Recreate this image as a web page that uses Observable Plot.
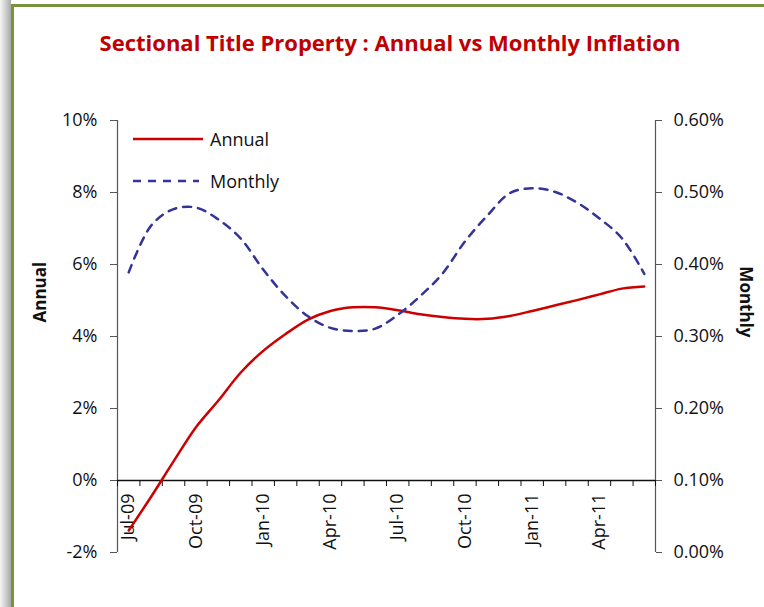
<!DOCTYPE html>
<html>
<head>
<meta charset="utf-8">
<script src="https://cdn.jsdelivr.net/npm/d3@7"></script>
<script src="https://cdn.jsdelivr.net/npm/@observablehq/plot@0.6"></script>
<style>
  body { margin: 0; background: #fff; }
  #wrap { position: relative; width: 764px; height: 607px; overflow: hidden; background: #fff; font-family: "Open Sans", sans-serif; }
  #shadow { position: absolute; left: 0; top: 0; width: 11px; height: 607px; background: linear-gradient(to right, #f6f6f6, #c8c8c8 60%, #a8a8a8); }
  #border { position: absolute; left: 11px; top: 4px; width: 800px; height: 700px; border-top: 3px solid #77933C; border-left: 3px solid #77933C; }
  #title { position: absolute; top: 27px; left: 0; width: 780px; text-align: center; color: #C00000; font-weight: bold; font-size: 22px; white-space: nowrap; }
  #chart { position: absolute; left: 0; top: 70px; }
  #legend { position: absolute; left: 133px; top: 124px; font-size: 18px; color: #111; }
  .lg { display: flex; align-items: center; height: 30px; margin-bottom: 12px; }
  .lg svg { margin-right: 7px; }
</style>
</head>
<body>
<div id="wrap">
  <div id="shadow"></div>
  <div id="border"></div>
  <div id="title">Sectional Title Property : Annual vs Monthly Inflation</div>
  <div id="chart"></div>
  <div id="legend">
    <div class="lg"><svg width="70" height="6"><line x1="0" x2="70" y1="3" y2="3" stroke="#CC0000" stroke-width="2.5"/></svg><span>Annual</span></div>
    <div class="lg"><svg width="70" height="6"><line x1="0" x2="66" y1="3" y2="3" stroke="#333399" stroke-width="2.5" stroke-dasharray="8,7"/></svg><span>Monthly</span></div>
  </div>
</div>
<script>
// Categories (months)
const months = ["Jul-09","Aug-09","Sep-09","Oct-09","Nov-09","Dec-09","Jan-10","Feb-10","Mar-10","Apr-10","May-10","Jun-10",
                "Jul-10","Aug-10","Sep-10","Oct-10","Nov-10","Dec-10","Jan-11","Feb-11","Mar-11","Apr-11","May-11","Jun-11"];
// Annual inflation (%), left axis
const annual = [-1.39, -0.45, 0.53, 1.48, 2.22, 3.0, 3.6, 4.07, 4.47, 4.71, 4.81, 4.81,
                4.73, 4.62, 4.54, 4.49, 4.49, 4.57, 4.71, 4.86, 5.01, 5.17, 5.33, 5.39];
// Monthly inflation (%), right axis
const monthly = [0.389, 0.454, 0.477, 0.479, 0.4625, 0.436, 0.393, 0.356, 0.328, 0.312, 0.3076, 0.311,
                 0.330, 0.356, 0.3875, 0.432, 0.468, 0.499, 0.506, 0.501, 0.486, 0.464, 0.4365, 0.387];
// Axis ticks
const leftTicks = [-2, 0, 2, 4, 6, 8, 10];
const rightTickLabels = ["0.00%","0.10%","0.20%","0.30%","0.40%","0.50%","0.60%"];
const labelMonths = [0, 3, 6, 9, 12, 15, 18, 21];

// Map monthly onto annual scale: 0.00% -> -2%, 0.60% -> 10%
const toLeft = m => m * 20 - 2;
const xDomain = [-0.5, months.length - 0.5];
const boundaries = d3.range(months.length + 1).map(i => i - 0.5);

const W = 764, H = 537, mT = 50, mB = 55, mL = 117, mR = 109;
const innerH = H - mT - mB;
const yDomain = [-2, 10];
const zeroShift = -innerH * (0 - yDomain[0]) / (yDomain[1] - yDomain[0]);

const plot = Plot.plot({
  width: W, height: H,
  marginTop: mT, marginBottom: mB, marginLeft: mL, marginRight: mR,
  style: { fontFamily: "Open Sans, sans-serif", fontSize: "18px", color: "#111", background: "transparent" },
  x: { type: "linear", domain: xDomain, axis: null },
  y: { domain: yDomain, axis: null },
  marks: [
    Plot.ruleX([xDomain[0]], { stroke: "#555", strokeWidth: 1.2 }),
    Plot.ruleX([xDomain[1]], { stroke: "#555", strokeWidth: 1.2 }),
    Plot.axisY(leftTicks, { anchor: "left", tickSize: 7, tickPadding: 13, tickFormat: d => `${d}%`, label: null, stroke: "#555", fontSize: 18 }),
    Plot.axisY(leftTicks, { anchor: "right", tickSize: 6, tickPadding: 12, tickFormat: (d, i) => rightTickLabels[i], label: null, stroke: "#555", fontSize: 18 }),
    Plot.ruleY([0], { stroke: "#111", strokeWidth: 1.3 }),
    Plot.axisX(boundaries, { anchor: "bottom", tickSize: 6, tickFormat: () => "", label: null, dy: zeroShift, stroke: "#111" }),
    Plot.axisX(labelMonths, { anchor: "bottom", tickSize: 0, tickPadding: 13, tickRotate: -90, tickFormat: i => months[i], label: null, dy: zeroShift, fontSize: 18 }),
    Plot.line(annual, { x: (d, i) => i, y: d => d, stroke: "#CC0000", strokeWidth: 2.5, curve: "catmull-rom" }),
    Plot.line(monthly, { x: (d, i) => i, y: d => toLeft(d), stroke: "#333399", strokeWidth: 2.5, strokeDasharray: "8,7", curve: "catmull-rom" }),
    Plot.text(["Annual"], { frameAnchor: "left", text: d => d, rotate: -90, dx: -77, dy: -14, fontWeight: "bold", fontSize: 17, fill: "#111" }),
    Plot.text(["Monthly"], { frameAnchor: "right", text: d => d, rotate: 90, dx: 90, dy: 1, fontWeight: "bold", fontSize: 17, fill: "#111" })
  ]
});
document.getElementById("chart").appendChild(plot);
</script>
</body>
</html>
